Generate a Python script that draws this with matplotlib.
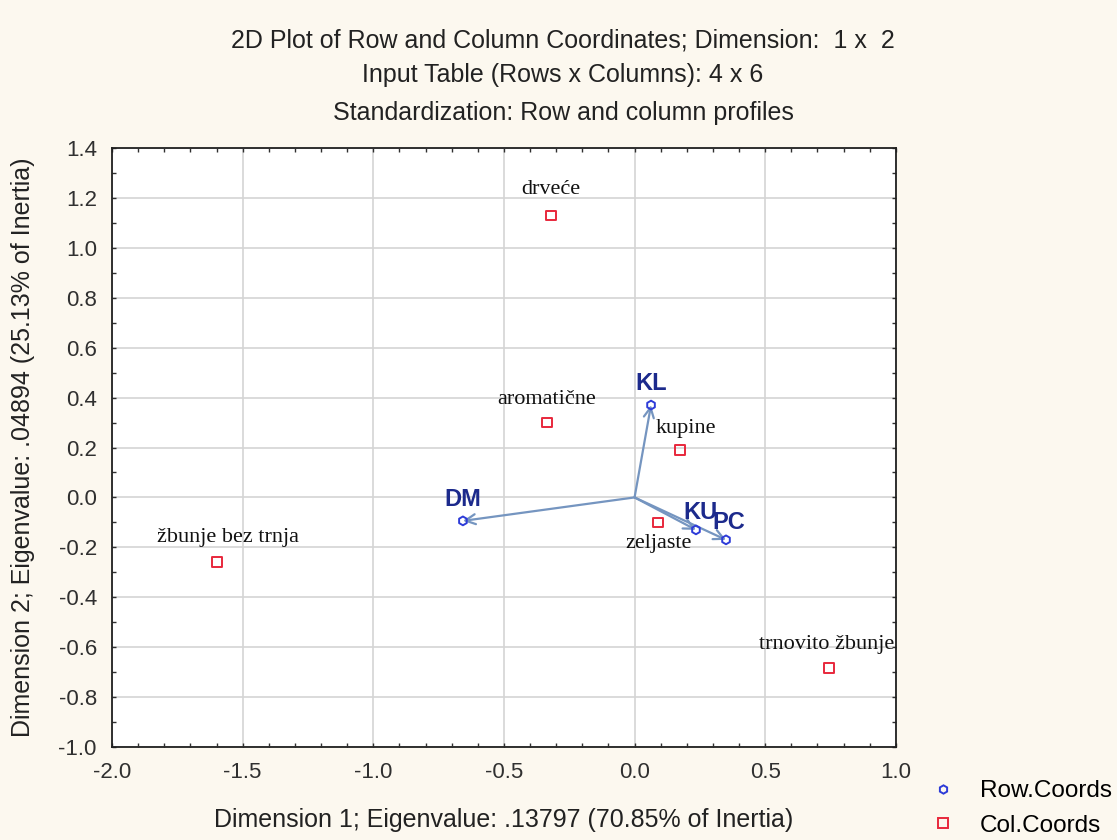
import matplotlib.pyplot as plt
import numpy as np

# column coordinates (red squares)
col_names = ["drveće", "aromatične", "kupine", "zeljaste", "žbunje bez trnja", "trnovito žbunje"]
col_x = np.array([-0.32, -0.335, 0.174, 0.09, -1.598, 0.744])
col_y = np.array([1.13, 0.30, 0.19, -0.10, -0.259, -0.683])

# row coordinates (blue circles + arrows)
row_names = ["KL", "DM", "KU", "PC"]
row_x = np.array([0.063, -0.657, 0.235, 0.35])
row_y = np.array([0.37, -0.094, -0.13, -0.17])

plt.rcParams['font.family'] = ['Liberation Sans', 'DejaVu Sans']

bg = "#fcf8ef"
fig = plt.figure(figsize=(11.17, 8.4), dpi=100, facecolor=bg)
ax = fig.add_axes([0.1003, 0.1107, 0.7017, 0.7131])
ax.set_facecolor("white")

ax.set_xlim(-2.0, 1.0)
ax.set_ylim(-1.0, 1.4)
ax.set_xticks(np.arange(-2.0, 1.01, 0.5))
ax.set_yticks(np.arange(-1.0, 1.41, 0.2))
ax.set_xticks(np.arange(-2.0, 1.01, 0.1), minor=True)
ax.set_yticks(np.arange(-1.0, 1.41, 0.1), minor=True)
fmt = plt.FuncFormatter(lambda v, p: "%.1f" % (0.0 if abs(v) < 1e-9 else v))
ax.xaxis.set_major_formatter(fmt)
ax.yaxis.set_major_formatter(fmt)
ax.grid(True, which="major", color="#d4d4d4", lw=1.2)
ax.set_axisbelow(True)
ax.tick_params(which="both", direction="in", length=3, width=1, colors="#303030",
               top=True, right=True, labelsize=16, pad=11)
for s in ax.spines.values():
    s.set_color("#202020")
    s.set_linewidth(1.3)

# arrows from origin to row points
for x, y in zip(row_x, row_y):
    ax.annotate("", xy=(x, y), xytext=(0, 0),
                arrowprops=dict(arrowstyle="->", color="#7595c0", lw=1.6,
                                mutation_scale=18, shrinkA=0, shrinkB=0))

ax.scatter(col_x, col_y, marker="s", s=45, facecolors="none", edgecolors="#e8283c", lw=1.4, zorder=5)
ax.scatter(row_x, row_y, marker="h", s=40, facecolors="none", edgecolors="#2d3bd8", lw=1.4, zorder=5)

col_off = [(0, 12), (0, 10), (4, 9), (0, -22), (8, 11), (-2, 10)]
for name, x, y, off in zip(col_names, col_x, col_y, col_off):
    ax.annotate(name, (x, y), xytext=off, textcoords="offset points", ha="center", va="bottom",
                fontsize=16, family="Liberation Serif", color="#111111")

row_off = [(0, 7), (0, 7), (3, 4), (2, 4)]
for name, x, y, off in zip(row_names, row_x, row_y, row_off):
    ax.annotate(name, (x, y), xytext=off, textcoords="offset points", ha="center", va="bottom",
                fontsize=17, fontweight="bold", color="#1c2a8c")

fig.text(0.504, 0.952, "2D Plot of Row and Column Coordinates; Dimension:  1 x  2", ha="center", va="center", fontsize=18, color="#222222")
fig.text(0.504, 0.911, "Input Table (Rows x Columns): 4 x 6", ha="center", va="center", fontsize=18, color="#222222")
fig.text(0.504, 0.866, "Standardization: Row and column profiles", ha="center", va="center", fontsize=18, color="#222222")

ax.set_xlabel("Dimension 1; Eigenvalue: .13797 (70.85% of Inertia)", fontsize=18, color="#222222", labelpad=18)
ax.set_ylabel("Dimension 2; Eigenvalue: .04894 (25.13% of Inertia)", fontsize=18, color="#222222", labelpad=17)

h1 = plt.Line2D([], [], marker="h", ls="none", mfc="none", mec="#2d3bd8", ms=6, mew=1.4)
h2 = plt.Line2D([], [], marker="s", ls="none", mfc="none", mec="#e8283c", ms=7, mew=1.4)
fig.legend([h1, h2], ["Row.Coords", "Col.Coords"], loc="lower left", bbox_to_anchor=(0.803, -0.022),
           frameon=False, fontsize=17.5, handletextpad=0.5, labelspacing=0.5)

plt.savefig("out.png", dpi=100, facecolor=bg)
